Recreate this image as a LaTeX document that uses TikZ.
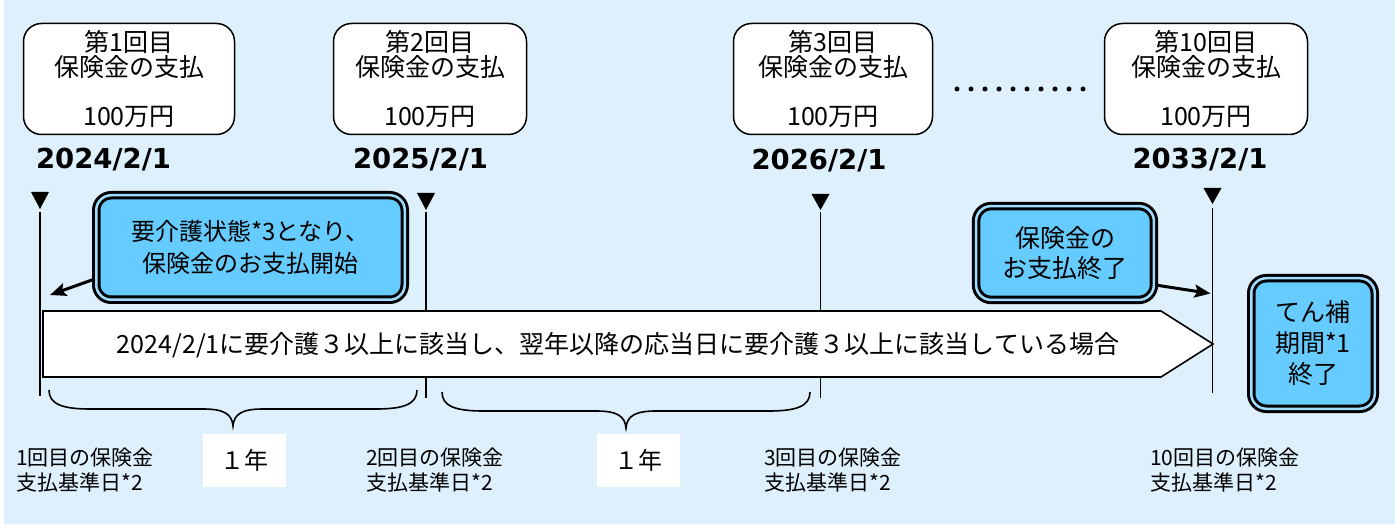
\documentclass[tikz,border=0pt]{standalone}
\usepackage{fontspec}
\setmainfont{Noto Sans CJK JP}
\newfontfamily\datefont{DejaVu Sans}
\usetikzlibrary{arrows.meta}
\definecolor{bgc}{RGB}{221,240,252}
\definecolor{bblue}{RGB}{102,204,255}
\definecolor{dblue}{RGB}{160,220,255}
\newcommand\mybrace[3]{%
  \draw[brc] (#1,#3) .. controls ({#1},{#3+14}) and ({#1+13},{#3+19}) .. ({#1+41},{#3+19})
    -- ({(#1+#2)/2-30},{#3+19}) .. controls ({(#1+#2)/2-9},{#3+19}) and ({(#1+#2)/2-1},{#3+24}) .. ({(#1+#2)/2},{#3+36})
    .. controls ({(#1+#2)/2+1},{#3+24}) and ({(#1+#2)/2+9},{#3+19}) .. ({(#1+#2)/2+30},{#3+19})
    -- ({#2-41},{#3+19}) .. controls ({#2-13},{#3+19}) and ({#2},{#3+14}) .. ({#2},{#3});}
\begin{document}
\begin{tikzpicture}[x=1pt,y=-1pt,
  wbox/.style={draw, line width=1.5pt, fill=white, rounded corners=18pt, minimum height=111pt,
    align=center, inner sep=0pt, font=\fontsize{25}{24.7}\selectfont},
  datelbl/.style={font=\datefont\bfseries\fontsize{27.5}{30}\selectfont, inner sep=0pt},
  bbox/.style={draw=black, line width=3pt, double=dblue, double distance=2.5pt, fill=bblue,
    rounded corners=15pt, align=center, inner sep=0pt},
  tline/.style={line width=1.6pt},
  tri/.style={fill=black},
  arr/.style={line width=3pt, -{Stealth[length=16pt,width=13pt,inset=3pt]}},
  brc/.style={line width=1.6pt},
  yearbox/.style={fill=white, minimum width=83pt, minimum height=53pt, inner sep=0pt,
    font=\fontsize{24}{28}\selectfont},
  basel/.style={anchor=west, align=left, inner sep=0pt, font=\fontsize{21}{25}\selectfont},
]
\useasboundingbox (0,0) rectangle (1395,529);
\fill[bgc] (4,0) rectangle (1395,524);

% payment boxes
\node[wbox, minimum width=211pt] (p1) at (129,79) {第1回目\\保険金の支払\\[24.7pt]100万円};
\node[wbox, minimum width=193pt] (p2) at (430,79) {第2回目\\保険金の支払\\[24.7pt]100万円};
\node[wbox, minimum width=199pt] (p3) at (833,79) {第3回目\\保険金の支払\\[24.7pt]100万円};
\node[wbox, minimum width=203pt] (p4) at (1206,79) {第10回目\\保険金の支払\\[24.7pt]100万円};
\draw[line width=5pt, line cap=round, dash pattern=on 0pt off 14pt] (957,89) -- (1084,89);

% dates
\node[datelbl] (d1) at (103.5,160) {2024/2/1};
\node[datelbl] (d2) at (420.5,160) {2025/2/1};
\node[datelbl] (d3) at (819,161) {2026/2/1};
\node[datelbl] (d4) at (1200,160) {2033/2/1};

% markers
\fill[tri] (31,192) -- (49,192) -- (40,209) -- cycle;
\fill[tri] (417,193) -- (435,193) -- (426,210) -- cycle;
\fill[tri] (811.5,194) -- (829.5,194) -- (820.5,210) -- cycle;
\fill[tri] (1203.5,188) -- (1221.5,188) -- (1212.5,204) -- cycle;

\coordinate (t1) at (40,212);   \coordinate (b1) at (40,396);
\coordinate (t2) at (426,212);  \coordinate (b2) at (426,398);
\coordinate (t3) at (820.5,212);\coordinate (b3) at (820.5,398);
\coordinate (t4) at (1212.5,208);\coordinate (b4) at (1212.5,393);
\draw[tline] (t1) -- (b1);
\draw[tline] (t2) -- (b2);
\draw[tline] (t3) -- (b3);
\draw[tline] (t4) -- (b4);

% main arrow band
\draw[fill=white, line width=1.6pt] (43,311) -- (1161,311) -- (1213,344) -- (1161,377) -- (43,377) -- cycle;
\node[inner sep=0pt, font=\fontsize{25}{30}\selectfont] (mt) at (618,345)
  {2024/2/1に要介護３以上に該当し、翌年以降の応当日に要介護３以上に該当している場合};

% blue boxes
\node[bbox, minimum width=308.5pt, minimum height=104.5pt, font=\fontsize{24}{32}\selectfont]
  (bb1) at (250.5,247.5) {要介護状態*3となり、\\保険金のお支払開始};
\node[bbox, minimum width=177.8pt, minimum height=93.8pt, font=\fontsize{25}{30}\selectfont]
  (bb2) at (1065,253) {保険金の\\お支払終了};
\node[bbox, minimum width=123.5pt, minimum height=130.5pt, font=\fontsize{25}{31}\selectfont]
  (bb3) at (1313,343.5) {てん補\\期間*1\\終了};

\coordinate (a1) at (50,295);
\coordinate (a2) at (1210.5,293.5);
\draw[arr] ([yshift=-31.5pt]bb1.west) -- (a1);
\draw[arr] ([yshift=-32pt]bb2.east) -- (a2);

% braces
\mybrace{49}{417}{390}
\mybrace{442}{810}{392}

% year boxes
\node[yearbox] (y1) at (244.5,460.5) {１年};
\node[yearbox] (y2) at (638,460.5) {１年};

% bottom labels
\node[basel] (l1) at (16,470.5) {1回目の保険金\\支払基準日*2};
\node[basel] (l2) at (366,470.5) {2回目の保険金\\支払基準日*2};
\node[basel] (l3) at (764,470.5) {3回目の保険金\\支払基準日*2};
\node[basel] (l4) at (1150,470.5) {10回目の保険金\\支払基準日*2};
\end{tikzpicture}
\end{document}
